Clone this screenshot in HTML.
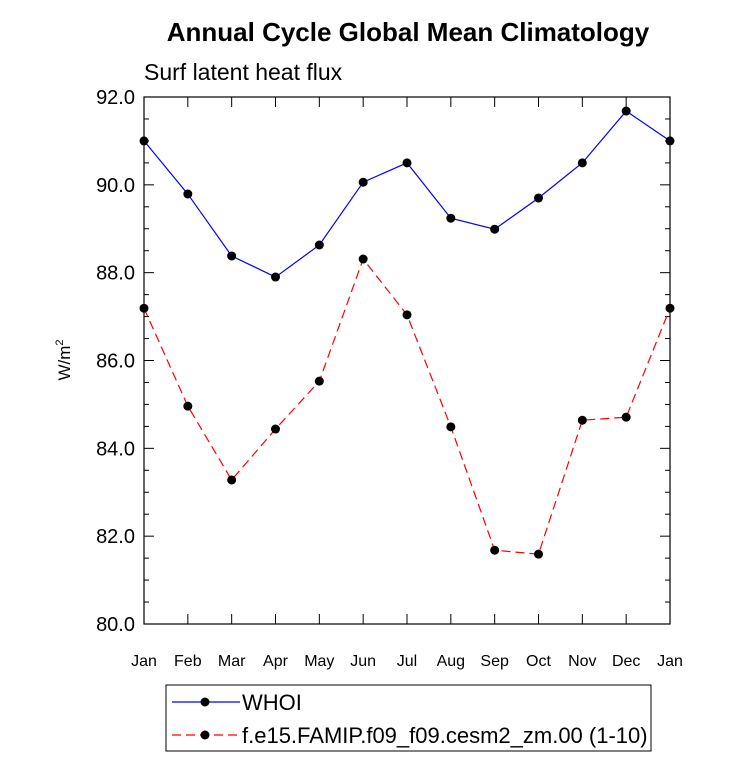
<!DOCTYPE html>
<html><head><meta charset="utf-8"><style>
body{margin:0;background:#fff;}
svg{display:block;font-family:"Liberation Sans",sans-serif;}
</style></head><body>
<svg id="chart" width="733" height="761">
<text x="408" y="41" text-anchor="middle" font-size="26" font-weight="bold">Annual Cycle Global Mean Climatology</text>
<text x="144" y="80" font-size="23">Surf latent heat flux</text>
<text transform="translate(70,360) rotate(-90)" text-anchor="middle" font-size="17">W/m<tspan dy="-7" font-size="11">2</tspan></text>
<g id="axes"></g>
<g id="series"></g>
<rect x="166" y="685" width="485" height="66" fill="none" stroke="#000" stroke-width="1"/>
<g>
<line x1="172" y1="702" x2="240" y2="702" stroke="#0000ff" stroke-width="1.2"/>
<circle cx="205" cy="702" r="4.5" fill="#000"/>
<text x="242" y="710" font-size="22">WHOI</text>
</g>
<g>
<line x1="172" y1="735" x2="240" y2="735" stroke="#ff0000" stroke-width="1.2" stroke-dasharray="9,5"/>
<circle cx="205" cy="735" r="4.5" fill="#000"/>
<text x="242" y="743" font-size="22">f.e15.FAMIP.f09_f09.cesm2_zm.00 (1-10)</text>
</g>
</svg>
<script>
const months=["Jan","Feb","Mar","Apr","May","Jun","Jul","Aug","Sep","Oct","Nov","Dec","Jan"];
const whoi=[91.0,89.79,88.38,87.9,88.63,90.06,90.5,89.24,88.99,89.7,90.5,91.68,91.0];
const model=[87.19,84.96,83.28,84.44,85.53,88.31,87.04,84.49,81.68,81.59,84.64,84.71,87.19];
const yTicks=[80,82,84,86,88,90,92];
const NS="http://www.w3.org/2000/svg";
const L=144,R=670,T=97,B=624,ymin=80,ymax=92;
const xs=i=>L+(R-L)*i/(months.length-1);
const ys=v=>B-(B-T)*(v-ymin)/(ymax-ymin);
function mk(tag,attrs,parent){const e=document.createElementNS(NS,tag);for(const k in attrs)e.setAttribute(k,attrs[k]);parent.appendChild(e);return e;}
const ax=document.getElementById('axes');
const frame=mk('rect',{x:L,y:T,width:R-L,height:B-T,fill:'none',stroke:'#000','stroke-width':1.2},ax);


for(let v=ymin;v<=ymax+1e-9;v+=0.5){
  const y=ys(v);const len=(Math.abs(v-Math.round(v/2)*2)<1e-9)?10:5;
  mk('line',{x1:L,y1:y,x2:L+len,y2:y,stroke:'#000'},ax);
  mk('line',{x1:R,y1:y,x2:R-len,y2:y,stroke:'#000'},ax);
}
yTicks.forEach(v=>{
  const t=mk('text',{x:L-9,y:ys(v)+7,'text-anchor':'end','font-size':20},ax);
  t.textContent=v.toFixed(1);
  
  
});
months.forEach((m,i)=>{
  const x=xs(i);
  mk('line',{x1:x,y1:B,x2:x,y2:B-10,stroke:'#000'},ax);
  mk('line',{x1:x,y1:T,x2:x,y2:T+10,stroke:'#000'},ax);
  const t=mk('text',{x:x,y:B+42,'text-anchor':'middle','font-size':16},ax);
  t.textContent=m;
  
  
});
const sg=document.getElementById('series');
function draw(data,color,dash,name){
  const g=mk('g',{},sg);
  
  
  const pl=mk('polyline',{points:data.map((v,i)=>xs(i)+','+ys(v)).join(' '),fill:'none',stroke:color,'stroke-width':1.2},g);
  if(dash)pl.setAttribute('stroke-dasharray',dash);
  data.forEach((v,i)=>{
    const c=mk('circle',{cx:xs(i),cy:ys(v),r:4.5,fill:'#000'},g);
    
    
  });
}
draw(whoi,'#0000ff',null,'series-whoi');
draw(model,'#ff0000','9,5','series-model');
</script>
</body></html>
